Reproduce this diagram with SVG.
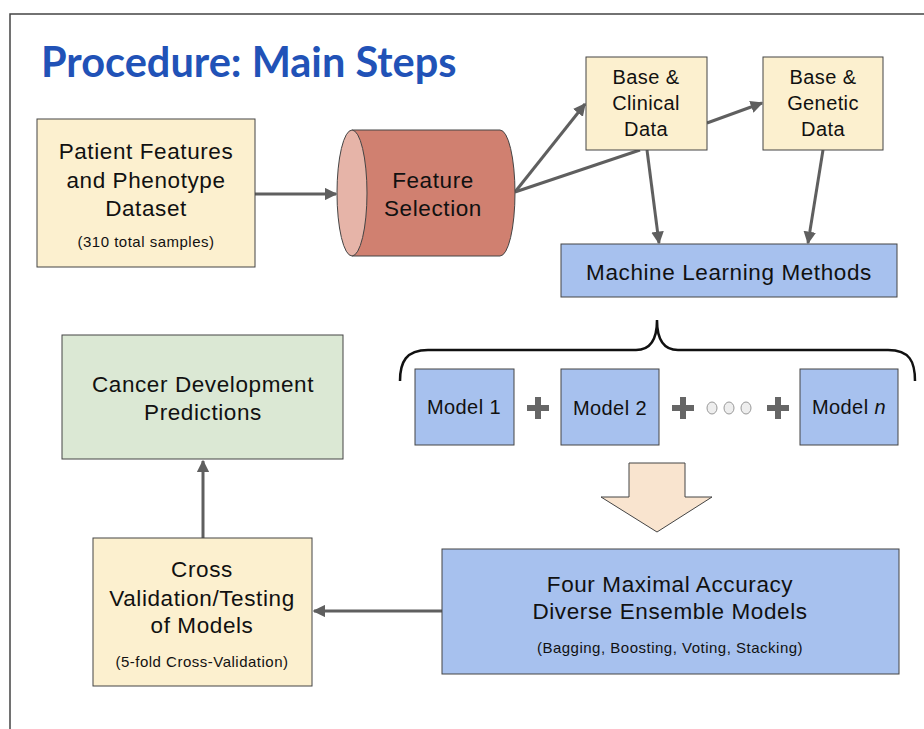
<svg xmlns="http://www.w3.org/2000/svg" width="924" height="729" viewBox="0 0 924 729">
  <style>
    .frame { fill: none; stroke: #444; stroke-width: 1.5; }
    .box { stroke: #444; stroke-width: 1; }
    .yellow { fill: #fcf0cf; }
    .blue { fill: #a7c1ee; }
    .green { fill: #dbe8d4; }
    .t { font-family: "Liberation Sans", Arial, sans-serif; fill: #111; text-anchor: middle; }
    .big { font-size: 22.5px; letter-spacing: 0.6px; }
    .mid { font-size: 20px; letter-spacing: 0.4px; }
    .small { font-size: 15px; letter-spacing: 0.5px; }
    .edge { fill: none; stroke: #5f5f5f; stroke-width: 3; }
    .title { font-family: Lato, "Liberation Sans", sans-serif; font-weight: bold; font-size: 41.5px; fill: #2152b7; }
    .plus { fill: #666; }
    .dot { fill: #eee; stroke: #999; stroke-width: 1; }
  </style>
  <defs>
    <marker id="arrow" viewBox="0 0 10 10" refX="9" refY="5" markerWidth="4.2" markerHeight="4.2" orient="auto" markerUnits="strokeWidth">
      <path d="M0,0 L10,5 L0,10 z" fill="#5f5f5f"/>
    </marker>
  </defs>

  <rect width="924" height="729" fill="#fff"/>
  <path class="frame" d="M10,729 V14 H924"/>

  <text class="title" x="41" y="77">Procedure: Main Steps</text>

  <!-- connectors -->
  <g id="connectors">
    <line class="edge" x1="255" y1="194" x2="336" y2="194" marker-end="url(#arrow)"/>
    <line class="edge" x1="515" y1="192" x2="585" y2="104" marker-end="url(#arrow)"/>
    <line class="edge" x1="515" y1="192" x2="640" y2="150"/>
    <line class="edge" x1="707" y1="123" x2="762" y2="103" marker-end="url(#arrow)"/>
    <line class="edge" x1="647" y1="150" x2="659" y2="243" marker-end="url(#arrow)"/>
    <line class="edge" x1="823" y1="150" x2="808" y2="243" marker-end="url(#arrow)"/>
    <line class="edge" x1="442" y1="611" x2="314" y2="611" marker-end="url(#arrow)"/>
    <line class="edge" x1="203" y1="538" x2="203" y2="461" marker-end="url(#arrow)"/>
  </g>

  <g id="patient">
    <rect class="box yellow" x="37" y="119" width="218" height="148"/>
    <text class="t big" x="146" y="159">Patient Features</text>
    <text class="t big" x="146" y="188">and Phenotype</text>
    <text class="t big" x="146" y="216">Dataset</text>
    <text class="t small" x="146" y="247">(310 total samples)</text>
  </g>

  <g id="feature-selection">
    <path d="M352,130 H500 A15,63 0 0 1 500,256 H352 Z" fill="#d08070" stroke="#444" stroke-width="1"/>
    <ellipse cx="352" cy="193" rx="15" ry="63" fill="#e6b4a8" stroke="#444" stroke-width="1"/>
    <text class="t big" x="433" y="188">Feature</text>
    <text class="t big" x="433" y="216">Selection</text>
  </g>

  <g id="clinical">
    <rect class="box yellow" x="586" y="57" width="121" height="93"/>
    <text class="t mid" x="646" y="84">Base &amp;</text>
    <text class="t mid" x="646" y="110">Clinical</text>
    <text class="t mid" x="646" y="136">Data</text>
  </g>

  <g id="genetic">
    <rect class="box yellow" x="763" y="57" width="120" height="93"/>
    <text class="t mid" x="823" y="84">Base &amp;</text>
    <text class="t mid" x="823" y="110">Genetic</text>
    <text class="t mid" x="823" y="136">Data</text>
  </g>

  <g id="ml-methods">
    <rect class="box blue" x="561" y="244" width="336" height="53"/>
    <text class="t big" x="729" y="280">Machine Learning Methods</text>
  </g>

  <g id="brace">
    <path d="M400,381 C400,362 406,350 428,350 H636 C650,350 657,340 657,320 C657,340 664,350 678,350 H888 C910,350 915,362 915,381" fill="none" stroke="#111" stroke-width="2.5"/>
  </g>

  <g id="model-1">
    <rect class="box blue" x="415" y="369" width="99" height="76"/>
    <text class="t mid" x="464" y="414">Model 1</text>
  </g>
  <g id="model-2">
    <rect class="box blue" x="561" y="369" width="98" height="76"/>
    <text class="t mid" x="610" y="415">Model 2</text>
  </g>
  <g id="model-n">
    <rect class="box blue" x="800" y="369" width="98" height="76"/>
    <text class="t mid" x="849" y="414">Model <tspan font-style="italic">n</tspan></text>
  </g>

  <g id="operators">
    <path class="plus" d="M535,397 h6 v8 h8 v6 h-8 v8 h-6 v-8 h-8 v-6 h8 z"/>
    <path class="plus" d="M680,397 h6 v8 h8 v6 h-8 v8 h-6 v-8 h-8 v-6 h8 z"/>
    <path class="plus" d="M775,397 h6 v8 h8 v6 h-8 v8 h-6 v-8 h-8 v-6 h8 z"/>
    <ellipse class="dot" cx="712" cy="408" rx="5" ry="6"/>
    <ellipse class="dot" cx="729" cy="408" rx="5" ry="6"/>
    <ellipse class="dot" cx="746" cy="408" rx="5" ry="6"/>
  </g>

  <g id="block-arrow">
    <path d="M629,463 H685 V497 H712 L657,532 L601,497 H629 Z" fill="#f9e4cf" stroke="#444" stroke-width="1"/>
  </g>

  <g id="ensemble">
    <rect class="box blue" x="442" y="549" width="457" height="125"/>
    <text class="t big" x="670" y="592">Four Maximal Accuracy</text>
    <text class="t big" x="670" y="619">Diverse Ensemble Models</text>
    <text class="t small" x="670" y="653">(Bagging, Boosting, Voting, Stacking)</text>
  </g>

  <g id="cross-validation">
    <rect class="box yellow" x="93" y="538" width="219" height="148"/>
    <text class="t big" x="202" y="577">Cross</text>
    <text class="t big" x="202" y="606">Validation/Testing</text>
    <text class="t big" x="202" y="633">of Models</text>
    <text class="t small" x="202" y="667">(5-fold Cross-Validation)</text>
  </g>

  <g id="predictions">
    <rect class="box green" x="62" y="335" width="281" height="124"/>
    <text class="t big" x="203" y="392">Cancer Development</text>
    <text class="t big" x="203" y="420">Predictions</text>
  </g>
</svg>
